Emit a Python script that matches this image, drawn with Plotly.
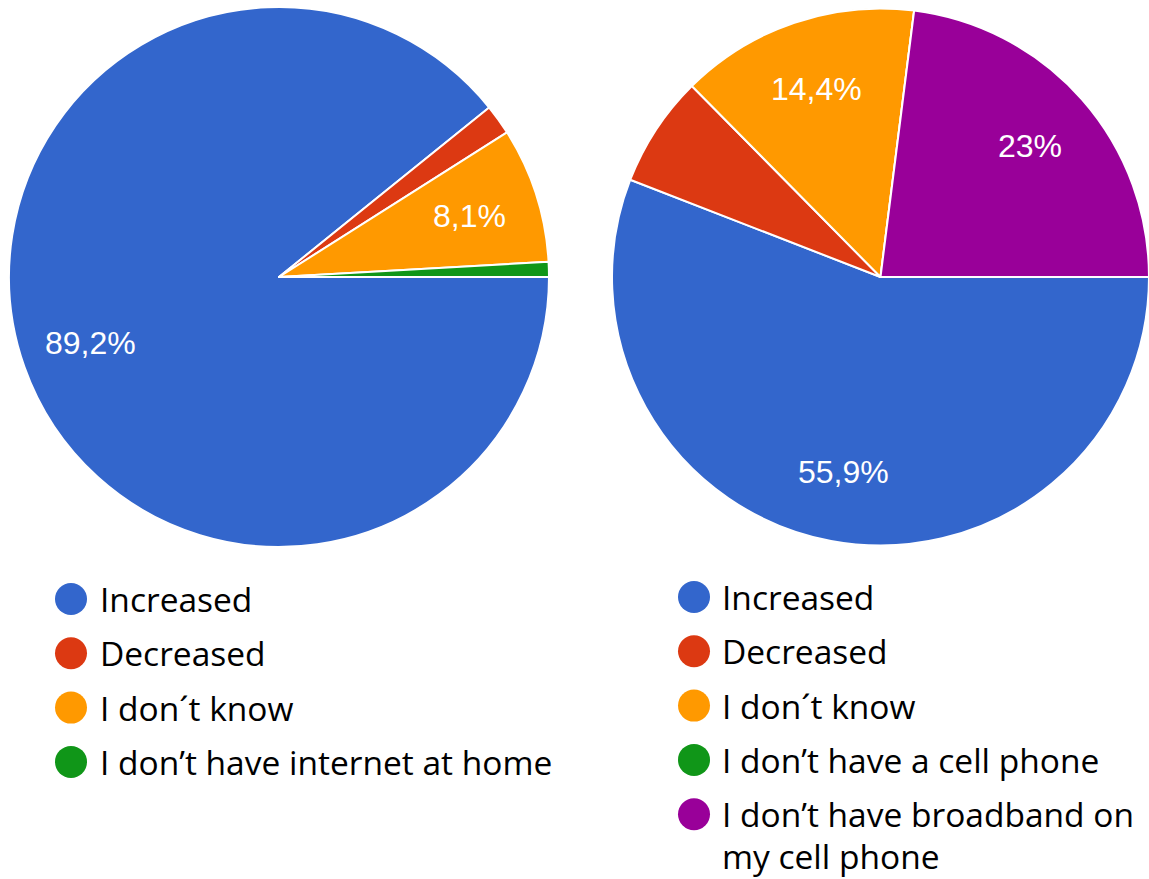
import math
import plotly.graph_objects as go

# ---- data -------------------------------------------------------------
left_labels = ["Increased", "Decreased", "I don\u00b4t know",
               "I don\u2019t have internet at home"]
left_values = [89.2, 1.8, 8.1, 0.9]

right_labels = ["Increased", "Decreased", "I don\u00b4t know",
                "I don\u2019t have a cell phone",
                "I don\u2019t have broadband on<br>my cell phone"]
right_values = [55.9, 6.7, 14.4, 0.0, 23.0]

left_colors = ["#3366CC", "#DC3912", "#FF9900", "#109618"]
right_colors = ["#3366CC", "#DC3912", "#FF9900", "#109618", "#990099"]

# ---- layout geometry (pixels) ----------------------------------------
W, H = 1149, 879
LABEL_MIN = 8.0          # smaller slices carry no percentage label
LABEL_RADIUS = 0.74      # fraction of the radius where labels sit
LABEL_FONT = dict(family="Liberation Sans, Arial", size=32, color="white")
LEGEND_FONT = dict(family="Open Sans", size=33.5, color="#000000")


def px_domain(x0, x1, y0, y1):
    return dict(x=[x0 / W, x1 / W], y=[1 - y1 / H, 1 - y0 / H])


def pct_text(v):
    s = f"{v:.1f}".rstrip("0").rstrip(".")
    return s.replace(".", ",") + "%"


pies = [
    dict(labels=left_labels, values=left_values, colors=left_colors,
         box=(9, 549, 7, 547), legend_x=71, text_x=98, legend_y0=599),
    dict(labels=right_labels, values=right_values, colors=right_colors,
         box=(612, 1149, 8, 546), legend_x=694, text_x=720, legend_y0=597),
]
ROW_STEP = 54.3
WRAP_STEP = 42

fig = go.Figure()
annotations = []

for p in pies:
    x0, x1, y0, y1 = p["box"]
    fig.add_trace(go.Pie(
        labels=p["labels"], values=p["values"],
        marker=dict(colors=p["colors"], line=dict(color="white", width=2)),
        sort=False, direction="clockwise", rotation=90,
        textinfo="none", showlegend=False,
        domain=px_domain(x0, x1, y0, y1),
    ))

    # percentage labels placed along each slice's bisector
    cx, cy = (x0 + x1) / 2, (y0 + y1) / 2
    R = min(x1 - x0, y1 - y0) / 2
    total = sum(p["values"])
    cum = 0.0
    for v in p["values"]:
        mid = (cum + v / 2) / total * 2 * math.pi
        cum += v
        if v < LABEL_MIN:
            continue
        lx = cx + LABEL_RADIUS * R * math.cos(mid)
        ly = cy + LABEL_RADIUS * R * math.sin(mid)
        annotations.append(dict(
            x=lx / W, y=1 - ly / H, xref="paper", yref="paper",
            text=pct_text(v), showarrow=False, font=LABEL_FONT,
            xanchor="center", yanchor="middle",
        ))

    # legend: coloured dots with their labels
    ys = [p["legend_y0"] + i * ROW_STEP for i in range(len(p["labels"]))]
    fig.add_trace(go.Scatter(
        x=[p["legend_x"]] * len(ys), y=ys, mode="markers",
        marker=dict(size=32, color=p["colors"], line=dict(width=0)),
        hoverinfo="skip", showlegend=False, xaxis="x", yaxis="y",
    ))
    for lab, y in zip(p["labels"], ys):
        for j, line in enumerate(lab.split("<br>")):
            annotations.append(dict(
                x=p["text_x"], y=y + j * WRAP_STEP, xref="x", yref="y",
                text=line, showarrow=False, font=LEGEND_FONT,
                xanchor="left", yanchor="middle",
            ))

fig.update_layout(
    width=W, height=H,
    margin=dict(l=0, r=0, t=0, b=0),
    paper_bgcolor="white", plot_bgcolor="rgba(0,0,0,0)",
    xaxis=dict(range=[0, W], visible=False, fixedrange=True, domain=[0, 1]),
    yaxis=dict(range=[H, 0], visible=False, fixedrange=True, domain=[0, 1]),
    annotations=annotations,
)

fig.write_html("out.html", config={"displayModeBar": False})
